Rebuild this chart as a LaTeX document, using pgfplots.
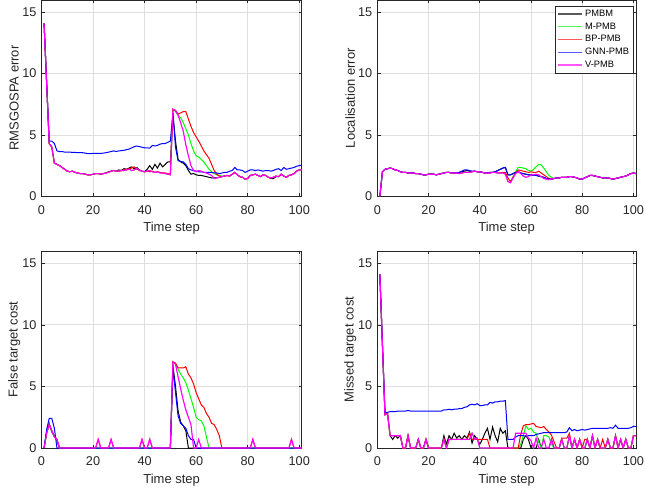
\documentclass[border=0pt]{standalone}
\usepackage{fontspec}
\setmainfont{Liberation Sans}
\usepackage{pgfplots}
\usepackage{pgfplotstable}
\pgfplotsset{compat=1.18}
\definecolor{axgray}{HTML}{262626}
\definecolor{gridgray}{HTML}{DFDFDF}
\definecolor{cK}{rgb}{0,0,0}
\definecolor{cG}{rgb}{0,1,0}
\definecolor{cR}{rgb}{1,0,0}
\definecolor{cB}{rgb}{0,0,1}
\definecolor{cM}{rgb}{1,0,1}
\newcommand{\tickfont}{\fontsize{12.7}{15}\selectfont}
\newcommand{\labfont}{\fontsize{13}{15.5}\selectfont}
\newcommand{\legfont}{\fontsize{9.3}{11}\selectfont}

% t PMBM M-PMB BP-PMB GNN-PMB V-PMB
\pgfplotstableread{
t k m b g v
1 14.1 14.1 14.1 14.1 14.1
2 9.2 9.2 9.2 9.3 9.2
3 4.3 4.3 4.3 4.5 4.3
4 4.0 4.0 4.0 4.5 4.0
5 2.7 2.7 2.7 4.3 2.7
6 2.6 2.6 2.6 3.7 2.6
7 2.5 2.5 2.5 3.65 2.5
8 2.35 2.35 2.35 3.65 2.35
9 2.2 2.2 2.2 3.6 2.2
10 2.05 2.05 2.05 3.6 2.05
11 2.0 2.0 2.0 3.6 2.0
12 2.05 2.05 2.05 3.58 2.05
13 1.95 1.95 1.95 3.58 1.95
14 1.9 1.9 1.9 3.55 1.9
15 1.85 1.85 1.85 3.55 1.85
16 1.85 1.85 1.85 3.55 1.85
17 1.8 1.8 1.8 3.52 1.8
18 1.75 1.75 1.75 3.48 1.75
19 1.75 1.75 1.75 3.48 1.75
20 1.8 1.8 1.8 3.5 1.8
21 1.85 1.85 1.85 3.5 1.85
22 1.85 1.85 1.85 3.5 1.85
23 1.8 1.8 1.8 3.5 1.8
24 1.85 1.85 1.85 3.52 1.85
25 1.9 1.9 1.9 3.55 1.9
26 2.0 1.95 1.95 3.6 1.95
27 2.05 2.05 2.05 3.65 2.05
28 2.1 2.1 2.1 3.7 2.1
29 2.05 2.05 2.05 3.65 2.05
30 2.15 2.05 2.05 3.7 2.05
31 2.1 2.1 2.1 3.72 2.1
32 2.25 2.1 2.15 3.75 2.1
33 2.2 2.15 2.2 3.8 2.15
34 2.3 2.2 2.25 3.85 2.2
35 2.4 2.1 2.3 3.95 2.1
36 2.25 2.15 2.4 4.05 2.15
37 2.35 2.3 2.2 4.1 2.3
38 2.15 2.1 2.15 4.05 2.1
39 2.05 2.05 2.05 4.0 2.05
40 2.0 2.0 2.0 3.95 2.0
41 2.2 2.05 2.05 3.95 2.05
42 2.5 2.1 2.0 3.92 2.1
43 2.2 2.0 2.05 4.15 2.0
44 2.6 1.95 1.95 4.1 1.95
45 2.3 2.0 2.0 4.15 2.0
46 2.7 1.9 1.95 4.25 1.9
47 2.4 1.9 1.9 4.3 1.9
48 2.6 1.85 1.9 4.3 1.85
49 2.8 1.8 1.85 4.4 1.8
50 2.8 1.75 1.8 4.5 1.75
51 6.6 7.1 7.1 6.8 7.1
52 4.5 6.9 7.0 4.0 7.0
53 3.0 6.6 6.7 2.9 6.6
54 2.8 6.4 6.8 2.85 6.0
55 2.7 6.0 6.9 2.8 5.3
56 2.5 5.5 6.9 2.6 4.2
57 2.1 5.0 6.3 2.25 3.3
58 1.8 4.3 5.7 2.15 2.5
59 1.85 3.7 5.2 2.1 2.1
60 1.75 3.3 4.85 2.05 2.0
61 1.7 3.2 4.5 2.0 2.1
62 1.7 3.0 4.1 2.0 2.05
63 1.65 2.8 3.7 1.95 1.95
64 1.6 2.5 3.4 1.95 1.9
65 1.55 2.2 3.1 1.95 1.8
66 1.5 2.0 2.6 1.95 1.7
67 1.5 1.85 2.1 1.9 1.45
68 1.5 1.75 1.8 1.9 1.5
69 1.55 1.7 1.65 1.85 1.55
70 1.6 1.65 1.6 1.9 1.6
71 1.65 1.65 1.65 1.95 1.65
72 1.7 1.7 1.7 1.95 1.7
73 1.65 1.65 1.65 2.05 1.65
74 1.8 1.8 1.8 2.1 1.8
75 1.95 1.95 1.95 2.35 1.95
76 1.75 1.75 1.75 2.15 1.75
77 1.6 1.6 1.6 2.15 1.6
78 1.55 1.55 1.55 2.1 1.55
79 1.4 1.4 1.4 1.95 1.4
80 1.45 1.45 1.45 2.05 1.45
81 1.7 1.7 1.7 2.15 1.7
82 1.75 1.75 1.75 2.15 1.75
83 1.8 1.8 1.8 2.1 1.8
84 1.7 1.7 1.7 2.15 1.7
85 1.6 1.6 1.6 2.1 1.6
86 1.75 1.75 1.75 2.05 1.75
87 1.7 1.7 1.7 2.1 1.7
88 1.55 1.55 1.55 2.1 1.55
89 1.45 1.5 1.5 2.05 1.5
90 1.45 1.55 1.55 2.1 1.55
91 1.6 1.65 1.65 2.2 1.65
92 1.6 1.6 1.6 2.25 1.6
93 1.8 1.8 1.8 2.1 1.8
94 1.65 1.65 1.65 2.35 1.65
95 1.55 1.55 1.55 2.2 1.55
96 1.7 1.7 1.7 2.25 1.7
97 1.75 1.75 1.75 2.3 1.75
98 1.85 1.85 1.85 2.35 1.85
99 2.05 2.05 2.05 2.45 2.05
100 2.15 2.15 2.15 2.5 2.15
101 2.15 2.15 2.15 2.55 2.15
}\tA

\pgfplotstableread{
t k m b g v
1 0 0 0 0 0
2 2.0 2.0 2.0 2.0 2.0
3 2.2 2.2 2.2 2.2 2.2
4 2.25 2.25 2.25 2.25 2.25
5 2.3 2.3 2.3 2.3 2.3
6 2.25 2.25 2.25 2.25 2.25
7 2.15 2.15 2.15 2.15 2.15
8 2.1 2.1 2.1 2.1 2.1
9 2.0 2.0 2.0 2.0 2.0
10 1.95 1.95 1.95 1.95 1.95
11 1.95 1.95 1.95 1.95 1.95
12 1.9 1.9 1.9 1.9 1.9
13 1.9 1.9 1.9 1.9 1.9
14 1.9 1.9 1.9 1.9 1.9
15 1.85 1.85 1.85 1.85 1.85
16 1.85 1.85 1.85 1.85 1.85
17 1.8 1.8 1.8 1.8 1.8
18 1.75 1.75 1.75 1.75 1.75
19 1.75 1.75 1.75 1.75 1.75
20 1.8 1.8 1.8 1.8 1.8
21 1.8 1.8 1.8 1.8 1.8
22 1.8 1.8 1.8 1.8 1.8
23 1.75 1.75 1.75 1.75 1.75
24 1.8 1.8 1.8 1.8 1.8
25 1.85 1.85 1.85 1.85 1.85
26 1.9 1.9 1.9 1.9 1.9
27 1.95 1.95 1.95 1.95 1.95
28 1.95 1.95 1.95 1.95 1.95
29 1.9 1.9 1.9 1.9 1.9
30 1.9 1.9 1.9 1.9 1.9
31 1.9 1.9 1.9 1.9 1.9
32 1.95 1.85 1.85 1.95 1.85
33 2.0 1.9 1.9 2.05 1.9
34 2.05 1.95 1.95 2.15 1.95
35 2.1 1.95 1.95 2.15 1.95
36 2.05 1.95 1.95 2.1 1.95
37 2.0 2.0 2.0 2.05 2.0
38 2.05 2.05 2.05 2.05 2.05
39 2.0 2.0 2.0 2.0 2.0
40 2.0 2.0 2.0 2.0 2.0
41 1.95 1.95 1.95 1.95 1.95
42 1.9 1.9 1.9 1.9 1.9
43 1.9 1.9 1.9 1.9 1.9
44 1.95 1.9 1.9 1.95 1.9
45 1.95 1.95 1.95 1.95 1.95
46 2.0 1.95 1.95 2.0 1.95
47 2.1 1.9 1.9 2.1 1.9
48 2.2 1.9 1.9 2.2 1.9
49 2.3 1.9 1.95 2.3 1.9
50 2.35 1.85 1.95 2.35 1.8
51 1.75 1.2 1.5 1.75 1.2
52 1.75 1.15 1.2 1.75 1.1
53 1.85 1.6 1.55 1.85 1.5
54 1.95 2.0 1.9 1.95 1.85
55 2.0 2.35 2.15 2.0 2.0
56 1.9 2.35 2.1 1.9 1.85
57 1.85 2.3 2.05 1.85 1.65
58 1.8 2.25 2.0 1.8 1.55
59 1.75 2.1 1.95 1.75 1.6
60 1.75 2.05 2.0 1.75 1.75
61 1.7 2.2 1.95 1.7 1.75
62 1.7 2.4 1.95 1.7 1.8
63 1.65 2.6 2.05 1.65 1.75
64 1.6 2.55 1.9 1.6 1.6
65 1.55 2.3 1.75 1.55 1.45
66 1.45 2.0 1.6 1.45 1.4
67 1.4 1.7 1.45 1.4 1.35
68 1.4 1.55 1.4 1.4 1.4
69 1.45 1.45 1.45 1.45 1.45
70 1.5 1.5 1.5 1.5 1.5
71 1.5 1.5 1.5 1.5 1.5
72 1.55 1.55 1.55 1.55 1.55
73 1.55 1.55 1.55 1.55 1.55
74 1.55 1.55 1.55 1.55 1.55
75 1.6 1.6 1.6 1.6 1.6
76 1.6 1.6 1.6 1.6 1.6
77 1.55 1.55 1.55 1.55 1.55
78 1.5 1.5 1.5 1.5 1.5
79 1.4 1.4 1.4 1.4 1.4
80 1.4 1.4 1.4 1.4 1.4
81 1.5 1.5 1.5 1.5 1.5
82 1.6 1.6 1.6 1.6 1.6
83 1.7 1.7 1.7 1.7 1.7
84 1.7 1.7 1.7 1.7 1.7
85 1.65 1.65 1.65 1.65 1.65
86 1.6 1.6 1.6 1.6 1.6
87 1.55 1.55 1.55 1.55 1.55
88 1.5 1.5 1.5 1.5 1.5
89 1.5 1.5 1.5 1.5 1.5
90 1.5 1.5 1.5 1.5 1.5
91 1.45 1.45 1.45 1.45 1.45
92 1.4 1.4 1.4 1.4 1.4
93 1.45 1.45 1.45 1.45 1.45
94 1.5 1.5 1.5 1.5 1.5
95 1.55 1.55 1.55 1.55 1.55
96 1.6 1.6 1.6 1.6 1.6
97 1.65 1.65 1.65 1.65 1.65
98 1.75 1.75 1.75 1.75 1.75
99 1.85 1.85 1.85 1.85 1.85
100 1.9 1.9 1.9 1.9 1.9
101 1.85 1.85 1.85 1.85 1.85
}\tB

\pgfplotstableread{
t k m b g v
1 14.1 14.1 14.1 14.1 14.1
2 8.4 8.4 8.4 8.5 8.4
3 2.7 2.7 2.7 2.9 2.7
4 2.8 2.8 2.8 2.9 2.8
5 1.0 1.0 1.0 2.95 1.0
6 0.7 1.0 1.0 2.95 1.0
7 1.0 1.0 1.0 2.95 1.0
8 0.8 1.0 1.0 3.0 1.0
9 1.0 1.0 1.0 3.0 1.0
10 0 0 0 3.0 0
11 0 0 0 3.0 0
12 1.0 1.0 1.0 3.05 1.0
13 0 0 0 3.0 0
14 0 0 0 3.0 0
15 0 0 0 3.0 0
16 0.7 0.7 0.7 3.0 0.7
17 0 0 0 3.0 0
18 0 0 0 3.0 0
19 0.7 0.7 0.7 3.0 0.7
20 0 0 0 3.0 0
21 0 0 0 3.0 0
22 0 0 0 3.0 0
23 0 0 0 3.0 0
24 0 0 0 3.0 0
25 0 0 0 3.0 0
26 1.0 0.7 0.7 3.1 0.7
27 0.3 0 0 3.1 0
28 1.0 0.7 0.7 3.15 0.7
29 0.7 0.7 0.7 3.1 0.7
30 1.2 0.7 0.7 3.15 0.7
31 0.8 0.7 0.7 3.15 0.7
32 1.0 0.7 0.7 3.2 0.7
33 0.7 0.7 0.7 3.2 0.7
34 1.0 0.7 0.7 3.3 0.7
35 0.8 0.7 0.7 3.35 0.7
36 1.3 0.7 1.2 3.5 0.7
37 0.4 1.2 0.7 3.55 1.2
38 1.0 0.7 0.7 3.5 0.7
39 0.7 0.8 0.7 3.6 0.8
40 0.3 0 0.7 3.45 0
41 0.7 0 0.7 3.45 0
42 1.2 0 0.7 3.5 0
43 1.6 0 0.7 3.5 0
44 0.7 0 0 3.7 0
45 1.7 0 0 3.65 0
46 1.0 0 0 3.75 0
47 0.5 0 0 3.75 0
48 1.6 0 0 3.8 0
49 1.2 0 0 3.8 0
50 1.4 0 0 3.85 0
51 0 0 0 0.7 0
52 0 0 0 0.7 0
53 0 0 0 0.7 0
54 0 0 0 0.9 1.2
55 0 0 0 1.0 1.2
56 0 0.3 1.1 1.0 1.2
57 0.7 1.0 1.8 1.0 1.2
58 1.0 1.8 1.9 0.95 1.2
59 0.7 1.5 1.9 1.0 0.8
60 0 1.6 1.95 1.0 0.6
61 0 1.3 2.0 1.0 0
62 0 1.2 1.75 1.1 0.8
63 0.7 0.5 1.7 1.15 0
64 0 0 1.65 1.2 0
65 0 1.0 1.75 1.25 0.7
66 0 1.0 1.5 1.25 0
67 0 0.9 1.3 1.25 0
68 0.7 0.3 1.05 1.25 0.7
69 0 0 0.5 1.25 0
70 0 0 0 1.25 0
71 0 0 0 1.25 0
72 0.7 0.7 0.8 1.25 0.7
73 0 0 0.8 1.25 0
74 0 0 0.8 1.3 0
75 1.0 1.0 1.2 1.65 1.0
76 0 0 0 1.4 0
77 0.7 0.7 0.7 1.5 0.7
78 0 0 0 1.4 0
79 0.7 0.7 0.7 1.45 0.7
80 0 0 0 1.5 0
81 0 0 0.7 1.45 0
82 0.7 0.7 0.7 1.5 0.7
83 0 0 0 1.55 0
84 1.0 1.0 1.0 1.6 1.0
85 0 0 0 1.6 0
86 0.7 0.7 0.7 1.6 0.7
87 0 0 0 1.6 0
88 0 0 0.7 1.6 0
89 0 0 0 1.6 0
90 0.7 0.7 0.7 1.6 0.7
91 0 0 0 1.65 0
92 0 0 0 1.6 0
93 1.0 1.0 1.0 1.85 1.0
94 0 0 0 1.6 0
95 0.7 0.7 0.7 1.6 0.7
96 0 0 0 1.6 0
97 0.7 0.7 0.7 1.6 0.7
98 0 0 0 1.6 0
99 0 0 0 1.65 0
100 1.0 1.0 1.0 1.75 1.0
101 1.0 1.0 1.0 1.75 1.0
}\tD

\pgfplotsset{
  mystyle/.style={
    scale only axis, anchor=south west,
    xmin=0, xmax=101, ymin=0, ymax=16,
    xtick={0,20,...,100}, ytick={0,5,10,15},
    tick align=inside, major tick length=3.3pt,
    grid=major, major grid style={gridgray, line width=0.8pt},
    axis line style={axgray, line width=0.7pt},
    every tick/.style={axgray, line width=0.7pt},
    xticklabel style={font=\tickfont, text=axgray, yshift=-4.5pt},
    yticklabel style={font=\tickfont, text=axgray, xshift=-0.6pt},
    xlabel style={font=\labfont, text=axgray, at={(axis description cs:0.5,-0.162)}, anchor=center},
    ylabel style={font=\labfont, text=axgray, at={(axis description cs:-0.105,0.5)}, rotate=0, anchor=center},
    xlabel={Time step},
    /pgf/number format/assume math mode=true,
    every axis plot/.append style={line width=1.0pt, mark=none},
    cycle list={{cK},{cG},{cR},{cB},{cM, line width=1.15pt}},
  }
}

\begin{document}
\tickfont
\begin{tikzpicture}[x=1pt,y=1pt]
\useasboundingbox (0,0) rectangle (645,491);

\begin{axis}[mystyle, at={(41.5pt,294.7pt)}, width=260.3pt, height=196.3pt, ylabel={RMSGOSPA error}]
\addplot table[x=t,y=k]{\tA};
\addplot table[x=t,y=m]{\tA};
\addplot table[x=t,y=b]{\tA};
\addplot table[x=t,y=g]{\tA};
\addplot table[x=t,y=v]{\tA};
\end{axis}

\begin{axis}[mystyle, at={(377.3pt,294.7pt)}, width=258.7pt, height=196.3pt, ylabel={Localisation error},
  legend style={at={(rel axis cs:0.99,0.971)}, anchor=north east, draw=axgray, line width=0.5pt,
    font=\legfont, text=black, inner xsep=2pt, inner ysep=1.5pt,
    nodes={inner sep=2.1pt, text height=6.8pt, text depth=1.8pt}},
  legend cell align=left,
  legend image code/.code={\draw[#1, line width=1.4pt, opacity=0.65] (0pt,0pt) -- (24pt,0pt);}]
\addplot table[x=t,y=k]{\tB};
\addplot table[x=t,y=m]{\tB};
\addplot table[x=t,y=b]{\tB};
\addplot table[x=t,y=g]{\tB};
\addplot table[x=t,y=v]{\tB};
\legend{PMBM,M-PMB,BP-PMB,GNN-PMB,V-PMB}
\end{axis}

\begin{axis}[mystyle, at={(41.5pt,43pt)}, width=260.3pt, height=197pt, ylabel={False target cost}]
\addplot coordinates {(1,0)(2,1.3)(3,2.0)(4,1.3)(5,1.0)(6,0.6)(7,0)(50,0)(51,6.7)(52,5.0)(53,3.0)(54,2.1)(55,1.8)(56,1.4)(57,0)(101,0)};
\addplot coordinates {(1,0)(2,1.2)(3,1.9)(4,1.4)(5,0.9)(6,0.7)(7,0)(50,0)(51,7.0)(52,6.8)(53,6.4)(54,6.0)(55,5.7)(56,5.3)(57,4.7)(58,4.0)(59,3.3)(60,2.5)(61,2.3)(62,2.2)(63,1.8)(64,0.9)(65,0)(101,0)};
\addplot coordinates {(1,0)(2,1.2)(3,1.9)(4,1.4)(5,0.9)(6,0.7)(7,0)(21,0)(22,0.7)(23,0)(26,0)(27,0.7)(28,0)(38,0)(39,0.7)(40,0)(41,0)(42,0.7)(43,0)(50,0)(51,7.0)(52,6.9)(53,6.5)(54,6.5)(55,6.5)(56,6.6)(57,6.0)(58,5.7)(59,5.2)(60,4.5)(61,4.0)(62,3.5)(63,3.3)(64,2.8)(65,2.5)(66,2.0)(67,1.9)(68,1.5)(69,1.0)(70,0)(81,0)(82,0.7)(83,0)(96,0)(97,0.7)(98,0)(101,0)};
\addplot coordinates {(1,0)(2,1.5)(3,2.4)(4,2.4)(5,1.6)(6,0)(50,0)(51,6.5)(52,4.5)(53,2.6)(54,2.0)(55,1.8)(56,1.6)(57,1.0)(58,0.7)(59,0.7)(60,0)(101,0)};
\addplot coordinates {(1,0)(2,1.2)(3,1.9)(4,1.4)(5,0.9)(6,0.7)(7,0)(21,0)(22,0.7)(23,0)(26,0)(27,0.7)(28,0)(38,0)(39,0.7)(40,0)(41,0)(42,0.7)(43,0)(50,0)(51,7.0)(52,6.8)(53,5.8)(54,4.8)(55,3.9)(56,3.1)(57,2.5)(58,1.9)(59,0)(60,0)(61,0.7)(62,0)(81,0)(82,0.7)(83,0)(96,0)(97,0.7)(98,0)(101,0)};
\end{axis}

\begin{axis}[mystyle, at={(377.3pt,43pt)}, width=258.7pt, height=197pt, ylabel={Missed target cost}]
\addplot table[x=t,y=k]{\tD};
\addplot table[x=t,y=m]{\tD};
\addplot table[x=t,y=b]{\tD};
\addplot table[x=t,y=g]{\tD};
\addplot table[x=t,y=v]{\tD};
\end{axis}

\end{tikzpicture}
\end{document}
